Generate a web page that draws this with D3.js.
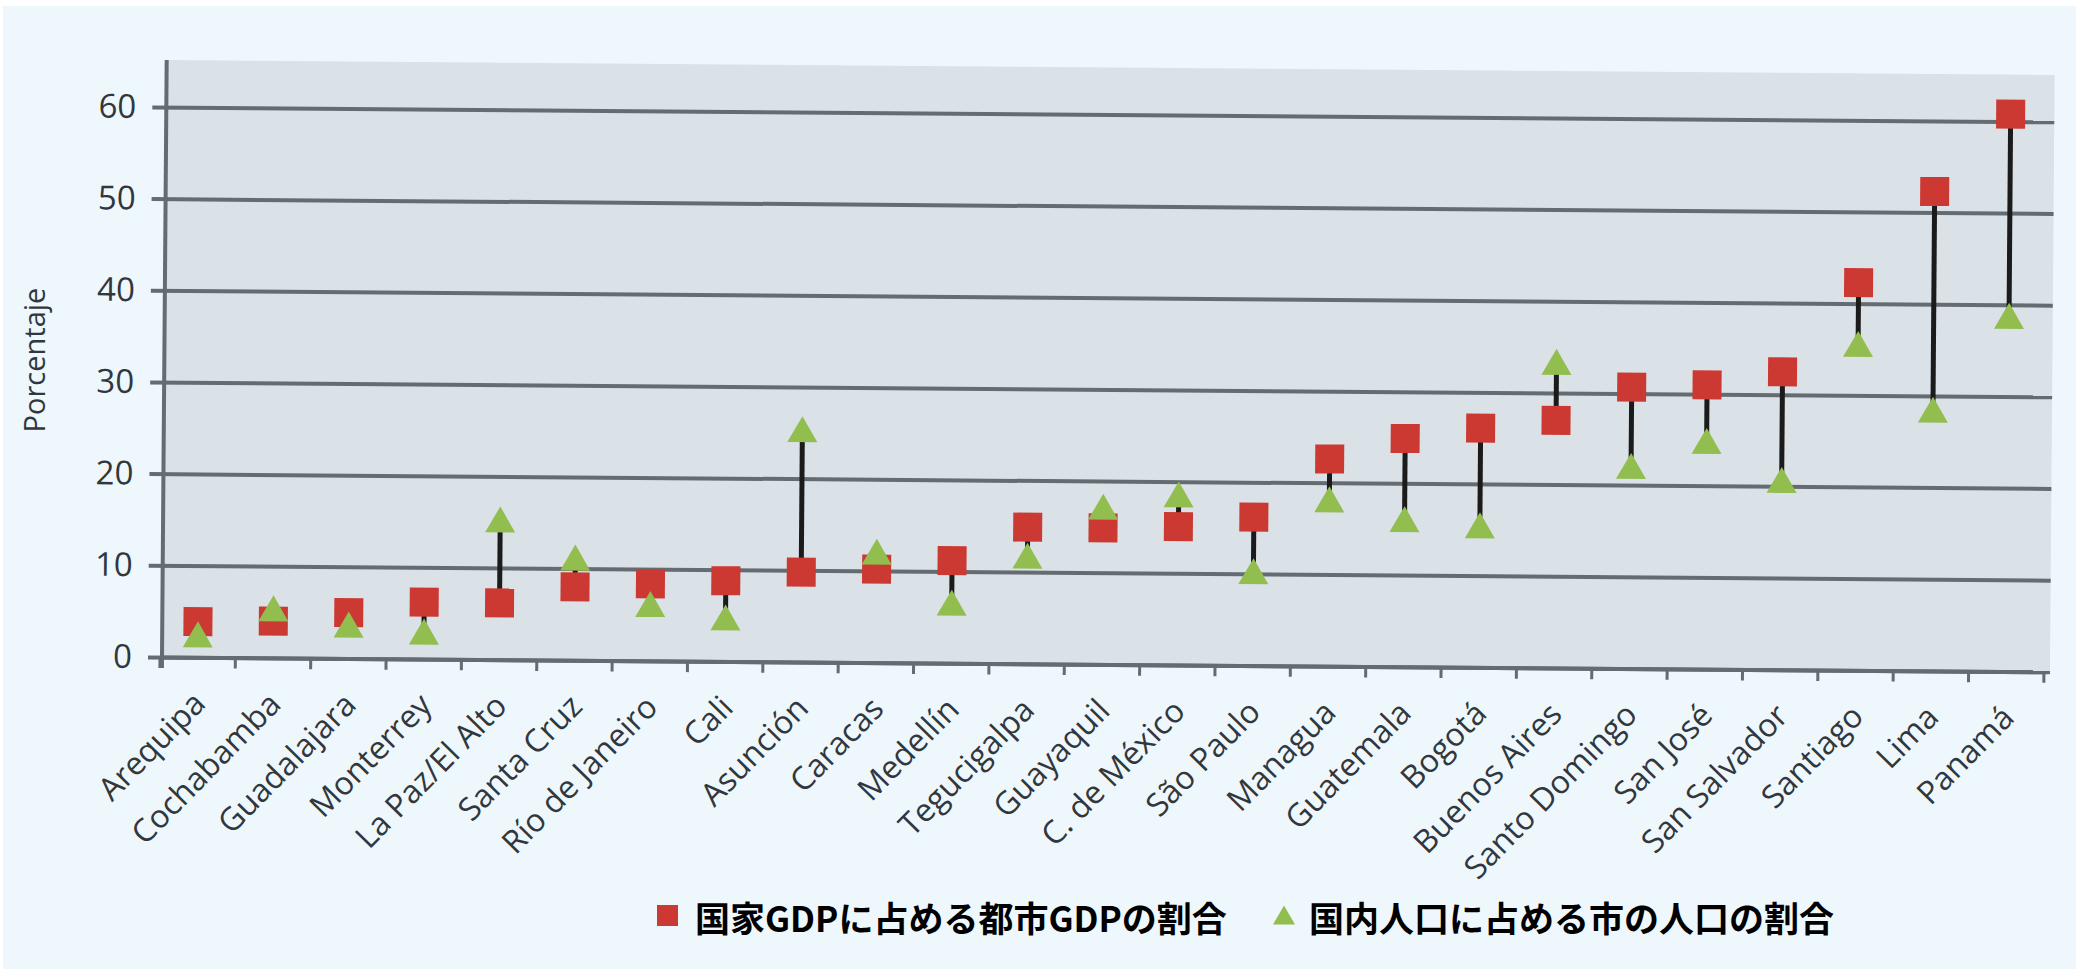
<!DOCTYPE html>
<html><head><meta charset="utf-8">
<script src="https://cdn.jsdelivr.net/npm/d3@7"></script>
<style>body{margin:0;background:#fff;} svg{display:block}</style>
</head><body><svg id="c" width="2076" height="969"></svg>
<script>
const cities = ["Arequipa","Cochabamba","Guadalajara","Monterrey","La Paz/El Alto","Santa Cruz","Río de Janeiro","Cali","Asunción","Caracas","Medellín","Tegucigalpa","Guayaquil","C. de México","São Paulo","Managua","Guatemala","Bogotá","Buenos Aires","Santo Domingo","San José","San Salvador","Santiago","Lima","Panamá"];
const gdpShare = [3.9,4.0,5.0,6.2,6.2,8.0,8.4,8.8,9.8,10.2,11.2,14.9,14.9,15.1,16.2,22.6,24.9,26.1,27.0,30.7,31.0,32.5,42.3,52.3,60.8];
const popShare = [2.5,5.4,3.7,3.0,15.3,11.2,6.2,4.8,25.4,12.1,6.6,11.8,17.2,18.6,10.3,18.2,16.1,15.5,33.4,22.1,24.9,20.7,35.6,28.5,38.8];
const yTicks = [0,10,20,30,40,50,60];
const yTitle = "Porcentaje";
const legendLabels = ["国家GDPに占める都市GDPの割合","国内人口に占める市の人口の割合"];

const W = 2076, H = 969;
const L = 162, R = 2050, T = 60, B = 657;
const RED = "#cc3832", GREEN = "#92bd4f", GRID = "#646b71", TXT = "#31373c";
const FONT = "'Open Sans', 'Noto Sans', sans-serif";

const svg = d3.select("#c");
svg.append("rect").attr("x", 3).attr("y", 6).attr("width", W - 3).attr("height", H - 6).attr("fill", "#eef7fc");

const g = svg.append("g").attr("transform", `rotate(0.45 ${L} ${B})`);

const x = d3.scaleBand().domain(cities).range([160, 2044]);
const y = d3.scaleLinear().domain([0, 60]).range([B, 107]);

g.append("rect").attr("x", L).attr("y", T).attr("width", R - L).attr("height", B - T).attr("fill", "#dae2e8");

// gridlines + y tick labels
const ya = g.append("g").attr("transform", "translate(148,0)")
  .call(d3.axisLeft(y).tickValues(yTicks).tickSize(-(R - 148)).tickPadding(16));
ya.select(".domain").remove();
ya.selectAll(".tick line").attr("stroke", GRID).attr("stroke-width", 4);
ya.selectAll(".tick text").attr("font-family", FONT).attr("font-size", 33).attr("fill", TXT);

// y axis line
g.append("line").attr("x1", L).attr("x2", L).attr("y1", T).attr("y2", B + 11)
  .attr("stroke", GRID).attr("stroke-width", 4);

// x axis
const xa = g.append("g").attr("transform", `translate(0,${B})`)
  .call(d3.axisBottom(x).tickSize(0).tickSizeOuter(0));
xa.select(".domain").attr("stroke", GRID).attr("stroke-width", 4);
xa.selectAll(".tick text")
  .attr("font-family", FONT).attr("font-size", 32).attr("fill", TXT)
  .attr("x", 0).attr("y", 0).attr("dy", null)
  .attr("text-anchor", "end")
  .attr("transform", "translate(10,48) rotate(-46)");

// category boundary ticks
g.append("g").selectAll("line").data(d3.range(cities.length + 1)).join("line")
  .attr("x1", i => x.range()[0] + i * x.step())
  .attr("x2", i => x.range()[0] + i * x.step())
  .attr("y1", B).attr("y2", B + 11)
  .attr("stroke", GRID).attr("stroke-width", 3);

// y title
svg.append("text").attr("transform", "translate(33,360) rotate(-90)")
  .attr("text-anchor", "middle").attr("dominant-baseline", "central")
  .attr("font-family", FONT).attr("font-size", 29).attr("fill", TXT).text(yTitle);

// data
const rows = cities.map((c, i) => ({c, gdp: gdpShare[i], pop: popShare[i]}));
const cx = d => x(d.c) + x.bandwidth() / 2;
g.append("g").selectAll("line").data(rows).join("line")
  .attr("x1", cx).attr("x2", cx)
  .attr("y1", d => y(d.gdp)).attr("y2", d => y(d.pop))
  .attr("stroke", "#1b1b1b").attr("stroke-width", 5);

const SQ = 29;
g.append("g").selectAll("rect").data(rows).join("rect")
  .attr("x", d => cx(d) - SQ / 2).attr("y", d => y(d.gdp) - SQ / 2)
  .attr("width", SQ).attr("height", SQ).attr("fill", RED);

const TW = 30, TH = 26;
const tri = (px, py, w, h) => `M${px},${py - h / 2}L${px + w / 2},${py + h / 2}L${px - w / 2},${py + h / 2}Z`;
g.append("g").selectAll("path").data(rows).join("path")
  .attr("d", d => tri(cx(d), y(d.pop), TW, TH)).attr("fill", GREEN);

// legend
const LF = "'Noto Sans CJK JP', sans-serif";
svg.append("rect").attr("x", 657).attr("y", 905).attr("width", 21).attr("height", 21).attr("fill", RED);
svg.append("text").attr("x", 695).attr("y", 916).attr("dominant-baseline", "central")
  .attr("font-family", LF).attr("font-weight", 700).attr("font-size", 35).attr("fill", "#000").text(legendLabels[0]);
svg.append("path").attr("d", tri(1284, 915, 22, 19)).attr("fill", GREEN);
svg.append("text").attr("x", 1309).attr("y", 916).attr("dominant-baseline", "central")
  .attr("font-family", LF).attr("font-weight", 700).attr("font-size", 35).attr("fill", "#000").text(legendLabels[1]);
</script>
</body></html>
